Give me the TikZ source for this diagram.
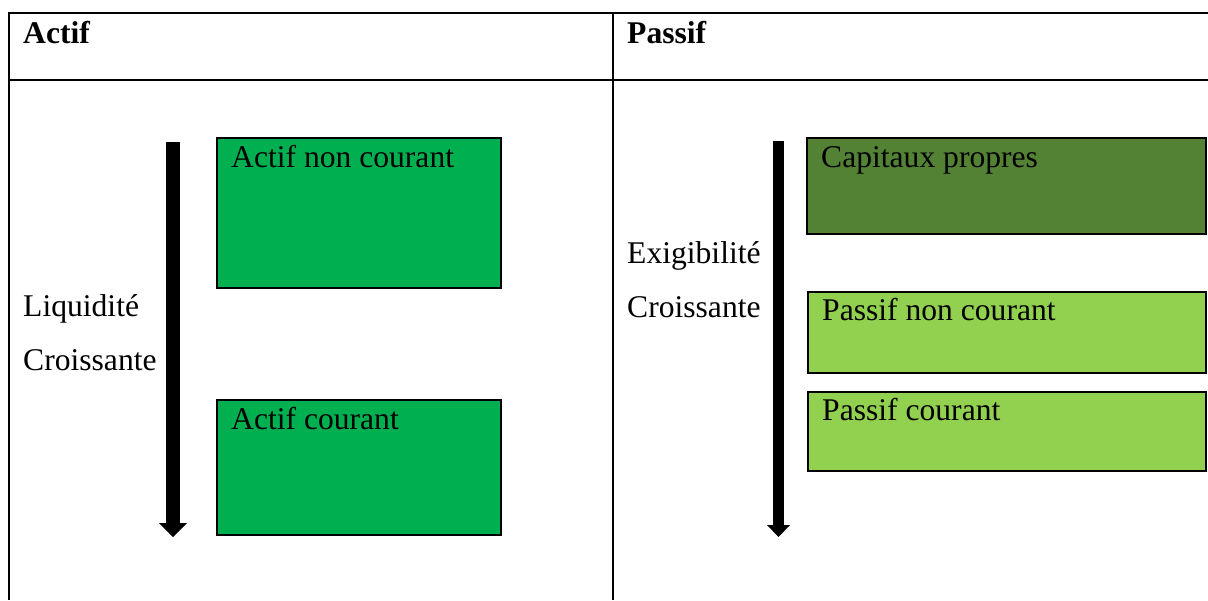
\documentclass[tikz,border=0pt]{standalone}
\usepackage{fontspec}
\setmainfont{Liberation Serif}
\usetikzlibrary{calc}
\definecolor{actifgreen}{HTML}{00B050}
\definecolor{capgreen}{HTML}{548235}
\definecolor{passgreen}{HTML}{92D050}
\begin{document}
\begin{tikzpicture}[x=1pt,y=-1pt,
  every node/.style={font=\fontsize{31.6}{38}\selectfont},
  rule/.style={line width=2pt},
  bloc/.style={draw=black,line width=1.6pt,rectangle,anchor=north west,inner sep=0pt},
  txt/.style={anchor=base west,inner sep=0pt},
  head/.style={anchor=base west,inner sep=0pt,font=\fontsize{31.6}{38}\selectfont\bfseries}]
\useasboundingbox (0,0) rectangle (1208,600);
% table frame
\draw[rule] (1208,13) -- (9,13) -- (9,600);
\draw[rule] (9,79.5) -- (1208,79.5);
\draw[rule] (613,13) -- (613,600);
\node[head] (hA) at (23,43) {Actif};
\node[head] (hP) at (627,43) {Passif};
% asset side
\node[bloc,fill=actifgreen,minimum width=284,minimum height=150] (anc) at (216,137) {};
\node[txt] (tanc) at ($(anc.north west)+(15,30)$) {Actif non courant};
\node[bloc,fill=actifgreen,minimum width=284,minimum height=135] (ac) at (216,399) {};
\node[txt] (tac) at ($(ac.north west)+(15,30)$) {Actif courant};
\node[txt] (liq) at (23,316.5) {Liquidité};
\node[txt] (cr1) at (23,370) {Croissante};
\coordinate (la1) at (173,142);
\coordinate (la2) at (173,537);
\draw[line width=14pt] (la1) -- ($(la2)+(0,-13)$);
\fill (la2) -- ++(-14,-14) -- ++(28,0) -- cycle;
% liability side
\node[bloc,fill=capgreen,minimum width=399,minimum height=96] (cap) at (806,137) {};
\node[txt] (tcap) at ($(cap.north west)+(15,30)$) {Capitaux propres};
\node[bloc,fill=passgreen,minimum width=398,minimum height=81] (pnc) at (807,291) {};
\node[txt] (tpnc) at ($(pnc.north west)+(15,29.5)$) {Passif non courant};
\node[bloc,fill=passgreen,minimum width=398,minimum height=79] (pc) at (807,391) {};
\node[txt] (tpc) at ($(pc.north west)+(15,29.5)$) {Passif courant};
\node[txt] (exi) at (627,263) {Exigibilité};
\node[txt] (cr2) at (627,317) {Croissante};
\coordinate (ra1) at (778.5,141);
\coordinate (ra2) at (778.5,537);
\draw[line width=11pt] (ra1) -- ($(ra2)+(0,-11)$);
\fill (ra2) -- ++(-11.5,-12) -- ++(23,0) -- cycle;
\end{tikzpicture}
\end{document}
